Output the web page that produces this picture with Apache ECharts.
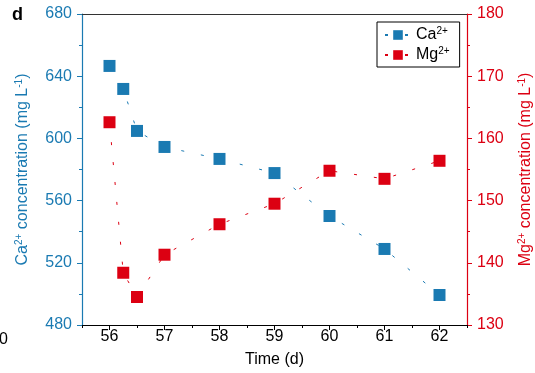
<!DOCTYPE html>
<html><head><meta charset="utf-8">
<script src="https://cdn.jsdelivr.net/npm/echarts@6/dist/echarts.min.js"></script>
<style>html,body{margin:0;padding:0;background:#fff}#c{width:535px;height:373px}</style>
</head><body><div id="c"></div>
<script>
const days = [56, 56.25, 56.5, 57, 58, 59, 60, 61, 62];
const caValues = [646.6, 631.8, 604.8, 594.5, 586.8, 577.7, 550.1, 528.9, 499.3];
const mgValues = [162.6, 138.4, 134.5, 141.3, 146.2, 149.5, 154.8, 153.5, 156.4];
const xTicks = [56, 57, 58, 59, 60, 61, 62];

const BLUE = '#1a7ab2';
const RED = '#dc0012';
const FONT = "'Liberation Sans', Arial, sans-serif";

const chart = echarts.init(document.getElementById('c'), null, {renderer: 'canvas'});
const sup = (c) => ({fontSize: 10, verticalAlign: 'top', lineHeight: 18, color: c, fontFamily: FONT});
const base = (c) => ({fontSize: 16, lineHeight: 18, color: c, fontFamily: FONT});

chart.setOption({
  animation: false,
  textStyle: {fontFamily: FONT},
  grid: {left: 82, right: 68, top: 14, bottom: 48, containLabel: false, outerBoundsMode: 'none'},
  legend: {
    orient: 'vertical', left: 377, top: 22,
    padding: [4, 10, 4, 7],
    itemWidth: 26, itemHeight: 12, itemGap: 3,
    backgroundColor: '#fff', borderColor: '#000', borderWidth: 1, borderRadius: 0,
    data: ['Ca', 'Mg'],
    formatter: (n) => '{b|' + n + '}{s|2+}',
    textStyle: {rich: {b: base('#000'), s: sup('#000')}}
  },
  xAxis: [
    {
      type: 'value', min: 55.5, max: 62.5, position: 'bottom',
      name: 'Time (d)', nameLocation: 'middle', nameGap: 27,
      nameTextStyle: {fontSize: 16, color: '#000', fontFamily: FONT},
      axisLine: {show: true, lineStyle: {color: '#000', width: 1}},
      axisTick: {show: true, length: 5, customValues: xTicks, lineStyle: {color: '#000'}},
      axisLabel: {show: true, customValues: xTicks, fontSize: 16, color: '#000', margin: 4, fontFamily: FONT},
      splitLine: {show: false}
    },
    {
      type: 'value', min: 55.5, max: 62.5, interval: 0.5, position: 'bottom', gridIndex: 0,
      axisLine: {show: false},
      axisTick: {show: true, length: 3, lineStyle: {color: '#000'}},
      axisLabel: {show: false}, splitLine: {show: false}
    },
    {
      type: 'value', min: 55.5, max: 62.5, position: 'top',
      axisLine: {show: true, lineStyle: {color: '#333', width: 1}},
      axisTick: {show: false}, axisLabel: {show: false}, splitLine: {show: false}
    }
  ],
  yAxis: [
    {
      type: 'value', min: 480, max: 680, interval: 40, position: 'left',
      name: '{a|Ca}{s|2+}{a| concentration (mg L}{s|-1}{a|)}',
      nameLocation: 'middle', nameGap: 50, nameRotate: 90,
      nameTextStyle: {rich: {a: base(BLUE), s: sup(BLUE)}},
      axisLine: {show: true, lineStyle: {color: BLUE, width: 1.2}},
      axisTick: {show: true, length: 5, lineStyle: {color: BLUE}},
      minorTick: {show: true, splitNumber: 2, length: 3, lineStyle: {color: BLUE}},
      axisLabel: {fontSize: 16, color: BLUE, margin: 10, fontFamily: FONT},
      splitLine: {show: false}
    },
    {
      type: 'value', min: 130, max: 180, interval: 10, position: 'right',
      name: '{a|Mg}{s|2+}{a| concentration (mg L}{s|-1}{a|)}',
      nameLocation: 'middle', nameGap: 50, nameRotate: 90,
      nameTextStyle: {rich: {a: base(RED), s: sup(RED)}},
      axisLine: {show: true, lineStyle: {color: RED, width: 1.2}},
      axisTick: {show: true, length: 5, lineStyle: {color: RED}},
      minorTick: {show: true, splitNumber: 2, length: 3, lineStyle: {color: RED}},
      axisLabel: {fontSize: 16, color: RED, margin: 10, fontFamily: FONT},
      splitLine: {show: false}
    }
  ],
  series: [
    {
      name: 'Ca', type: 'line', xAxisIndex: 0, yAxisIndex: 0,
      data: days.map((d, i) => [d, caValues[i]]),
      symbol: 'rect', symbolSize: 12,
      itemStyle: {color: BLUE},
      lineStyle: {color: BLUE, width: 1, type: [3, 17]},
      z: 3
    },
    {
      name: 'Mg', type: 'line', xAxisIndex: 0, yAxisIndex: 1,
      data: days.map((d, i) => [d, mgValues[i]]),
      symbol: 'rect', symbolSize: 12,
      itemStyle: {color: RED},
      lineStyle: {color: RED, width: 1, type: [3, 17]},
      z: 2
    }
  ],
  graphic: [
    {type: 'text', left: 12, top: 6, style: {text: 'd', font: "bold 18px 'Liberation Sans', Arial", fill: '#000'}},
    {type: 'text', left: -1, top: 332, style: {text: '0', font: "16px 'Liberation Sans', Arial", fill: '#000'}}
  ]
});
</script></body></html>
